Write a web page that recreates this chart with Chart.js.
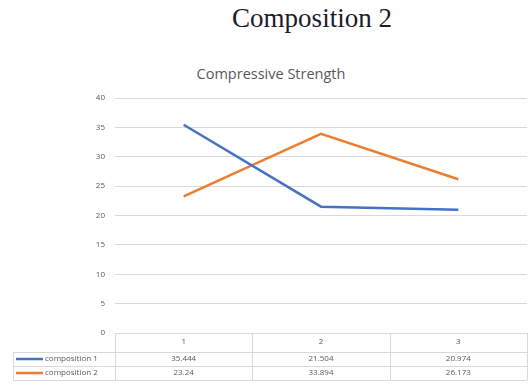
<!DOCTYPE html>
<html>
<head>
<meta charset="utf-8">
<script src="https://cdn.jsdelivr.net/npm/chart.js@4.4.1/dist/chart.umd.min.js"></script>
<style>
  html, body { margin: 0; padding: 0; background: #fff; }
  #wrap { position: relative; width: 531px; height: 386px; }
  #heading {
    position: absolute; left: 212px; top: 0px; width: 200px; text-align: center;
    font-family: "Liberation Serif", "DejaVu Serif", serif; font-size: 27px;
    color: #1b1b2b; white-space: nowrap; line-height: 36px;
  }
  #sub {
    position: absolute; left: 171px; top: 64px; width: 200px; text-align: center;
    font-family: "Open Sans", "Liberation Sans", sans-serif; font-size: 14.5px;
    color: #595959; white-space: nowrap; line-height: 20px;
  }
  canvas { position: absolute; left: 0; top: 0; }
</style>
</head>
<body>
<div id="wrap">
  <div id="heading">Composition 2</div>
  <div id="sub">Compressive Strength</div>
  <canvas id="c" width="531" height="386"></canvas>
</div>
<script>
// Test ages (table header) and strength readings per composition
const categories = ['1', '2', '3'];
const composition1 = [35.444, 21.504, 20.974];
const composition2 = [23.24, 33.894, 26.173];
const seriesNames = ['composition 1', 'composition 2'];
const seriesColors = ['#4472C4', '#ED7D31'];
const yTicks = [0, 5, 10, 15, 20, 25, 30, 35, 40];

const gridColor = '#d9d9d9';
const textColor = '#595959';

// Draws the data table beneath the plot, aligned to the category columns
const dataTable = {
  id: 'dataTable',
  afterDraw(chart) {
    const ctx = chart.ctx;
    const area = chart.chartArea;
    const x = chart.scales.x;
    const n = categories.length;
    const colW = (area.right - area.left) / n;
    const top = area.bottom;
    const headerBottom = top + 19;
    const rowH = 14;
    const legendLeft = 13;
    const rows = [composition1, composition2];
    const bottom = headerBottom + rowH * rows.length;

    ctx.save();
    ctx.strokeStyle = gridColor;
    ctx.lineWidth = 1;
    ctx.beginPath();
    ctx.moveTo(area.left, top + 0.5); ctx.lineTo(area.right, top + 0.5);
    for (let i = 0; i <= n; i++) {
      const cx = Math.round(area.left + i * colW) + 0.5;
      ctx.moveTo(cx, top); ctx.lineTo(cx, bottom);
    }
    for (let r = 0; r <= rows.length; r++) {
      const y = Math.round(headerBottom + r * rowH) + 0.5;
      ctx.moveTo(legendLeft, y); ctx.lineTo(area.right, y);
    }
    ctx.moveTo(legendLeft + 0.5, headerBottom); ctx.lineTo(legendLeft + 0.5, bottom);
    ctx.stroke();

    ctx.fillStyle = textColor;
    ctx.font = '8px "Open Sans", "Liberation Sans", sans-serif';
    ctx.textAlign = 'center';
    ctx.textBaseline = 'middle';
    categories.forEach((c, i) => {
      ctx.fillText(c, x.getPixelForValue(i), top + 9);
    });
    rows.forEach((vals, r) => {
      const cy = headerBottom + r * rowH + rowH / 2;
      vals.forEach((v, i) => ctx.fillText(String(v), x.getPixelForValue(i), cy));
      ctx.strokeStyle = seriesColors[r];
      ctx.lineWidth = 2.5;
      ctx.beginPath();
      ctx.moveTo(16, cy); ctx.lineTo(43, cy);
      ctx.stroke();
      ctx.textAlign = 'left';
      ctx.fillText(seriesNames[r], 45, cy);
      ctx.textAlign = 'center';
    });
    ctx.restore();
  }
};

new Chart(document.getElementById('c'), {
  type: 'line',
  data: {
    labels: categories,
    datasets: [
      { label: seriesNames[0], data: composition1, borderColor: seriesColors[0], backgroundColor: seriesColors[0] },
      { label: seriesNames[1], data: composition2, borderColor: seriesColors[1], backgroundColor: seriesColors[1] }
    ]
  },
  options: {
    responsive: false,
    animation: false,
    layout: { padding: { top: 98, bottom: 45, left: 0, right: 4 } },
    elements: {
      line: { borderWidth: 2.5, tension: 0 },
      point: { radius: 0 }
    },
    plugins: {
      legend: { display: false },
      title: { display: false },
      tooltip: { enabled: false }
    },
    scales: {
      x: {
        offset: true,
        grid: { display: false },
        border: { display: false },
        ticks: { display: false }
      },
      y: {
        min: 0, max: 40,
        afterBuildTicks(scale) { scale.ticks = yTicks.map(v => ({ value: v })); },
        afterFit(scale) { scale.width = 115; },
        grid: { color: gridColor, drawTicks: false },
        border: { display: false },
        ticks: {
          padding: 10,
          color: textColor,
          font: { family: '"Open Sans", "Liberation Sans", sans-serif', size: 8 }
        }
      }
    }
  },
  plugins: [dataTable]
});
</script>
</body>
</html>
